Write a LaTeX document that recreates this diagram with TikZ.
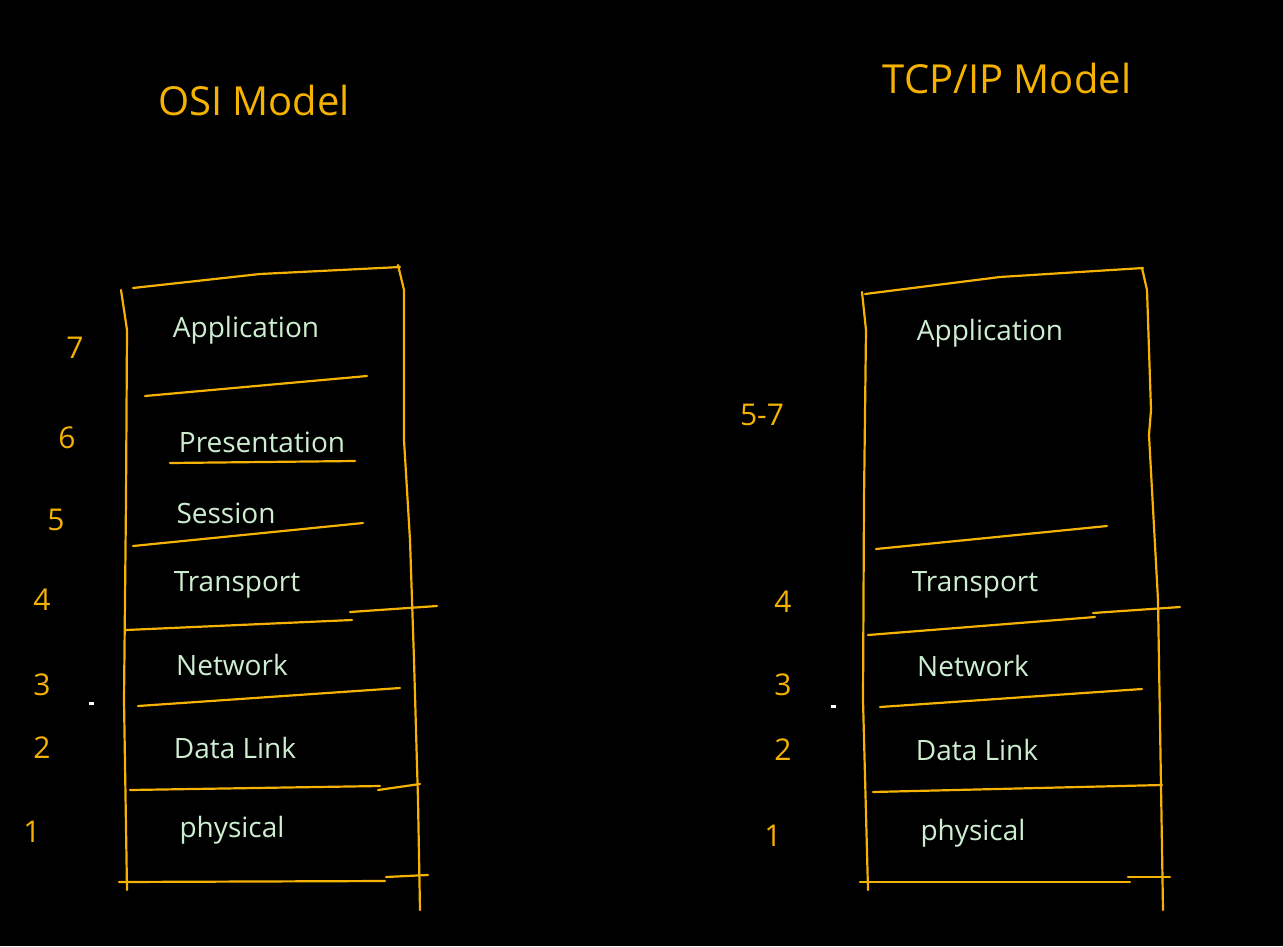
\documentclass[tikz,border=0pt]{standalone}
\usepackage{fontspec}
\setmainfont{Open Sans}
\definecolor{pen}{RGB}{245,178,0}
\definecolor{chalk}{RGB}{205,238,208}
\begin{document}
\begin{tikzpicture}[x=1pt,y=-1pt,
  stroke/.style={draw=pen,line width=2.2pt,line cap=round,line join=round},
  layer/.style={text=chalk,font=\fontsize{28}{32}\selectfont,inner sep=0pt},
  num/.style={text=pen,font=\fontsize{30}{32}\selectfont,inner sep=0pt},
  title/.style={text=pen,font=\fontsize{40}{44}\selectfont,inner sep=0pt}]
\fill[black] (0,0) rectangle (1283,946);
\useasboundingbox (0,0) rectangle (1283,946);

% ---- titles
\node[title] (osiT) at (254,100) {OSI Model};
\node[title] (tcpT) at (1007,78) {TCP/IP Model};

% ---- OSI box
\draw[stroke] (121,290) -- (127,330) -- (126,500) -- (124,700) -- (127,890);
\draw[stroke] (398,265) -- (404,290) -- (404,440) -- (410,540) -- (414,660) -- (418,800) -- (420,910);
\draw[stroke] (133,288) -- (260,274) -- (400,267);
\draw[stroke] (145,396) -- (367,376);
\draw[stroke] (170,463) -- (355,461);
\draw[stroke] (133,546) -- (363,523);
\draw[stroke] (126,630) -- (352,620);
\draw[stroke] (350,612) -- (437,606);
\draw[stroke] (138,706) -- (400,688);
\draw[stroke] (130,790) -- (380,786);
\draw[stroke] (378,790) -- (420,784);
\draw[stroke] (119,882) -- (385,881);
\draw[stroke] (386,877) -- (428,875);

\node[layer] (oApp) at (246,330) {Application};
\node[layer] (oPre) at (262,442) {Presentation};
\node[layer] (oSes) at (226,513) {Session};
\node[layer] (oTra) at (237,585) {Transport};
\node[layer] (oNet) at (232,665) {Network};
\node[layer] (oDat) at (235,748) {Data Link};
\node[layer] (oPhy) at (232,830) {physical};

\node[num] (o7) at (75,348) {7};
\node[num] (o6) at (67,438) {6};
\node[num] (o5) at (56,520) {5};
\node[num] (o4) at (42,600) {4};
\node[num] (o3) at (42,685) {3};
\node[num] (o2) at (42,748) {2};
\node[num] (o1) at (32,832) {1};
\fill[white] (89,702) rectangle (94,705);

% ---- TCP/IP box
\draw[stroke] (862,292) -- (866,330) -- (864,500) -- (863,700) -- (868,890);
\draw[stroke] (1142,268) -- (1147,290) -- (1151,410) -- (1149,435) -- (1158,600) -- (1163,910);
\draw[stroke] (865,294) -- (1000,277) -- (1143,268);
\draw[stroke] (876,549) -- (1107,526);
\draw[stroke] (868,635) -- (1095,617);
\draw[stroke] (1093,613) -- (1180,607);
\draw[stroke] (880,707) -- (1142,689);
\draw[stroke] (873,792) -- (1162,785);
\draw[stroke] (860,882) -- (1130,882);
\draw[stroke] (1128,877) -- (1170,877);

\node[layer] (tApp) at (990,333) {Application};
\node[layer] (tTra) at (975,585) {Transport};
\node[layer] (tNet) at (973,666) {Network};
\node[layer] (tDat) at (977,750) {Data Link};
\node[layer] (tPhy) at (973,833) {physical};

\node[num] (t57) at (762,415) {5-7};
\node[num] (t4) at (783,602) {4};
\node[num] (t3) at (783,685) {3};
\node[num] (t2) at (783,750) {2};
\node[num] (t1) at (773,836) {1};
\fill[white] (831,705) rectangle (836,708);
\end{tikzpicture}
\end{document}
